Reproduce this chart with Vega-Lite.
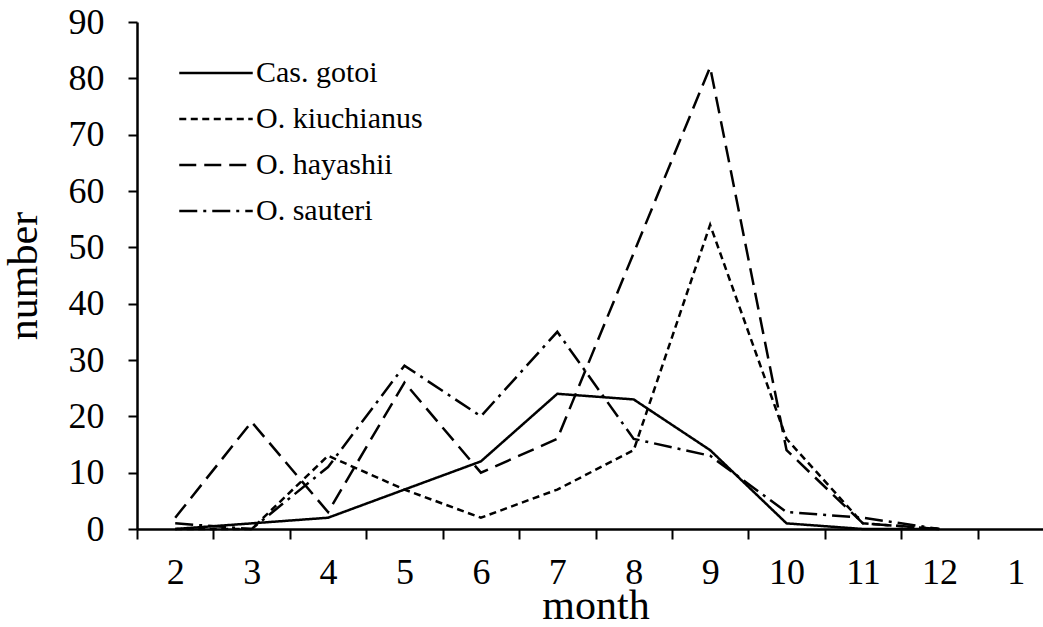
{
  "$schema": "https://vega.github.io/schema/vega-lite/v6.json",
  "width": 906,
  "height": 507,
  "autosize": {"type": "none"},
  "padding": {"left": 137, "top": 22, "right": 0, "bottom": 98},
  "background": "white",
  "config": {
    "view": {"stroke": null},
    "font": "Liberation Serif"
  },
  "data": {
    "values": [
      {"species": "Cas. gotoi", "month": "2", "number": 0},
      {"species": "Cas. gotoi", "month": "3", "number": 1},
      {"species": "Cas. gotoi", "month": "4", "number": 2},
      {"species": "Cas. gotoi", "month": "5", "number": 7},
      {"species": "Cas. gotoi", "month": "6", "number": 12},
      {"species": "Cas. gotoi", "month": "7", "number": 24},
      {"species": "Cas. gotoi", "month": "8", "number": 23},
      {"species": "Cas. gotoi", "month": "9", "number": 14},
      {"species": "Cas. gotoi", "month": "10", "number": 1},
      {"species": "Cas. gotoi", "month": "11", "number": 0},
      {"species": "Cas. gotoi", "month": "12", "number": 0},
      {"species": "O. kiuchianus", "month": "2", "number": 0},
      {"species": "O. kiuchianus", "month": "3", "number": 0},
      {"species": "O. kiuchianus", "month": "4", "number": 13},
      {"species": "O. kiuchianus", "month": "5", "number": 7},
      {"species": "O. kiuchianus", "month": "6", "number": 2},
      {"species": "O. kiuchianus", "month": "7", "number": 7},
      {"species": "O. kiuchianus", "month": "8", "number": 14},
      {"species": "O. kiuchianus", "month": "9", "number": 54},
      {"species": "O. kiuchianus", "month": "10", "number": 16},
      {"species": "O. kiuchianus", "month": "11", "number": 1},
      {"species": "O. kiuchianus", "month": "12", "number": 0},
      {"species": "O. hayashii", "month": "2", "number": 2},
      {"species": "O. hayashii", "month": "3", "number": 19},
      {"species": "O. hayashii", "month": "4", "number": 3},
      {"species": "O. hayashii", "month": "5", "number": 26},
      {"species": "O. hayashii", "month": "6", "number": 10},
      {"species": "O. hayashii", "month": "7", "number": 16},
      {"species": "O. hayashii", "month": "8", "number": 49},
      {"species": "O. hayashii", "month": "9", "number": 82},
      {"species": "O. hayashii", "month": "10", "number": 14},
      {"species": "O. hayashii", "month": "11", "number": 1},
      {"species": "O. hayashii", "month": "12", "number": 0},
      {"species": "O. sauteri", "month": "2", "number": 1},
      {"species": "O. sauteri", "month": "3", "number": 0},
      {"species": "O. sauteri", "month": "4", "number": 11},
      {"species": "O. sauteri", "month": "5", "number": 29},
      {"species": "O. sauteri", "month": "6", "number": 20},
      {"species": "O. sauteri", "month": "7", "number": 35},
      {"species": "O. sauteri", "month": "8", "number": 16},
      {"species": "O. sauteri", "month": "9", "number": 13},
      {"species": "O. sauteri", "month": "10", "number": 3},
      {"species": "O. sauteri", "month": "11", "number": 2},
      {"species": "O. sauteri", "month": "12", "number": 0}
    ]
  },
  "mark": {"type": "line", "color": "black", "strokeWidth": 2.5},
  "encoding": {
    "x": {
      "field": "month",
      "type": "ordinal",
      "scale": {
        "type": "band",
        "domain": ["2", "3", "4", "5", "6", "7", "8", "9", "10", "11", "12", "1"],
        "range": [0, 917],
        "paddingInner": 0,
        "paddingOuter": 0
      },
      "axis": {
        "title": "month",
        "titleFont": "Liberation Serif",
        "titleFontSize": 42,
        "titleFontWeight": "normal",
        "titleColor": "black",
        "titlePadding": -5,
        "labelAngle": 0,
        "labelFont": "Liberation Serif",
        "labelFontSize": 36,
        "labelColor": "black",
        "labelPadding": 16,
        "tickBand": "extent",
        "tickSize": 10,
        "tickWidth": 2,
        "tickColor": "black",
        "domainColor": "black",
        "domainWidth": 2.5,
        "grid": false
      }
    },
    "y": {
      "field": "number",
      "type": "quantitative",
      "scale": {"domain": [0, 90], "nice": false, "zero": true},
      "axis": {
        "title": "number",
        "titleFont": "Liberation Serif",
        "titleFontSize": 42,
        "titleFontWeight": "normal",
        "titleColor": "black",
        "titlePadding": 23,
        "values": [0, 10, 20, 30, 40, 50, 60, 70, 80, 90],
        "labelFont": "Liberation Serif",
        "labelFontSize": 36,
        "labelColor": "black",
        "labelPadding": 24,
        "tickSize": 9,
        "tickWidth": 2,
        "tickColor": "black",
        "domainColor": "black",
        "domainWidth": 2.5,
        "grid": false
      }
    },
    "strokeDash": {
      "field": "species",
      "type": "nominal",
      "scale": {
        "domain": ["Cas. gotoi", "O. kiuchianus", "O. hayashii", "O. sauteri"],
        "range": [[1, 0], [7, 4.5], [17, 8], [18, 6, 3, 6]]
      },
      "legend": {
        "title": null,
        "orient": "none",
        "legendX": 64,
        "legendY": 36,
        "padding": 0,
        "symbolType": "M-3,0H3",
        "symbolSize": 600,
        "symbolStrokeWidth": 2.5,
        "symbolStrokeColor": "black",
        "symbolFillColor": "transparent",
        "labelFont": "Liberation Serif",
        "labelFontSize": 30,
        "labelColor": "black",
        "labelOffset": 25,
        "labelLimit": 400,
        "rowPadding": 16
      }
    }
  }
}
